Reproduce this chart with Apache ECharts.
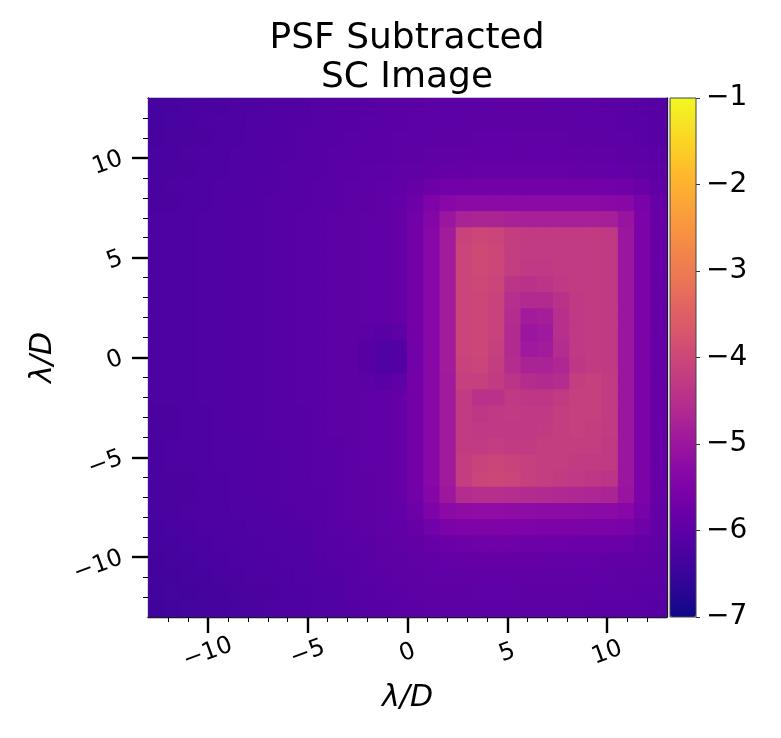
<!DOCTYPE html>
<html>
<head>
<meta charset="utf-8">
<script src="https://cdn.jsdelivr.net/npm/echarts@6/dist/echarts.min.js"></script>
<style>
  html, body { margin: 0; padding: 0; background: #fff; }
  #main { width: 781px; height: 738px; }
</style>
</head>
<body>
<div id="main"></div>
<script>
// image extent in lambda/D, square grid
var extent = [-13, 13];
var xTicks = [-10, -5, 0, 5, 10];
var yTicks = [-10, -5, 0, 5, 10];
var minorTicks = [-12, -11, -10, -9, -8, -7, -6, -5, -4, -3, -2, -1, 0, 1, 2, 3, 4, 5, 6, 7, 8, 9, 10, 11, 12];
var cbarRange = [-7, -1];
var plasma = ['#0d0887', '#2c0594', '#41049d', '#5601a4', '#6a00a8', '#7e03a8', '#8f0da4', '#a11b9b',
  '#b12a90', '#bf3984', '#cc4778', '#d8576b', '#e16462', '#eb7655', '#f2844b', '#f89540',
  '#fca636', '#feb72d', '#fcce25', '#f7e225', '#f0f921'];

// log10 contrast, rows from top (y = +13) to bottom (y = -13), 32 x 32 cells
var scImage = [
  [-6.32,-6.30,-6.28,-6.26,-6.24,-6.22,-6.20,-6.18,-6.16,-6.14,-6.12,-6.10,-6.09,-6.08,-6.06,-6.05,-6.04,-6.03,-6.02,-6.02,-6.01,-6.00,-6.00,-6.00,-6.00,-6.01,-6.02,-6.03,-6.04,-6.05,-6.08,-6.10],
  [-6.31,-6.29,-6.27,-6.25,-6.23,-6.21,-6.19,-6.17,-6.15,-6.13,-6.11,-6.09,-6.08,-6.07,-6.05,-6.04,-6.03,-6.02,-6.01,-6.01,-6.00,-5.99,-5.99,-5.99,-5.99,-6.00,-6.01,-6.02,-6.03,-6.04,-6.07,-6.09],
  [-6.30,-6.28,-6.26,-6.24,-6.22,-6.20,-6.18,-6.16,-6.14,-6.12,-6.10,-6.08,-6.07,-6.06,-6.05,-6.03,-6.02,-6.01,-6.00,-5.99,-5.98,-5.97,-5.97,-5.97,-5.97,-5.98,-5.99,-6.00,-6.01,-6.03,-6.06,-6.08],
  [-6.29,-6.27,-6.25,-6.23,-6.21,-6.19,-6.17,-6.15,-6.13,-6.11,-6.09,-6.07,-6.06,-6.05,-6.04,-6.02,-6.00,-5.98,-5.96,-5.95,-5.94,-5.94,-5.94,-5.94,-5.94,-5.94,-5.95,-5.96,-5.97,-5.99,-6.03,-6.06],
  [-6.28,-6.26,-6.24,-6.22,-6.20,-6.18,-6.16,-6.14,-6.12,-6.10,-6.08,-6.06,-6.05,-6.03,-6.01,-5.98,-5.95,-5.92,-5.88,-5.87,-5.86,-5.86,-5.86,-5.86,-5.86,-5.86,-5.87,-5.88,-5.89,-5.91,-5.95,-6.00],
  [-6.27,-6.25,-6.23,-6.21,-6.19,-6.17,-6.15,-6.13,-6.11,-6.09,-6.07,-6.05,-6.03,-6.01,-5.98,-5.93,-5.85,-5.75,-5.70,-5.68,-5.67,-5.67,-5.67,-5.67,-5.67,-5.67,-5.68,-5.69,-5.70,-5.72,-5.82,-5.93],
  [-6.26,-6.24,-6.22,-6.20,-6.18,-6.16,-6.14,-6.12,-6.10,-6.08,-6.06,-6.04,-6.02,-6.00,-5.96,-5.90,-5.75,-5.50,-5.35,-5.30,-5.28,-5.28,-5.28,-5.28,-5.28,-5.28,-5.28,-5.30,-5.32,-5.35,-5.58,-5.86],
  [-6.25,-6.23,-6.21,-6.19,-6.17,-6.15,-6.13,-6.11,-6.09,-6.07,-6.05,-6.03,-6.00,-5.98,-5.96,-5.88,-5.70,-5.40,-5.00,-4.75,-4.72,-4.72,-4.78,-4.80,-4.80,-4.80,-4.80,-4.80,-4.82,-5.05,-5.52,-5.84],
  [-6.25,-6.23,-6.21,-6.19,-6.17,-6.15,-6.13,-6.11,-6.09,-6.07,-6.05,-6.03,-6.00,-5.98,-5.96,-5.88,-5.65,-5.35,-4.90,-4.10,-4.00,-4.05,-4.20,-4.25,-4.25,-4.25,-4.25,-4.25,-4.30,-5.00,-5.55,-5.85],
  [-6.25,-6.23,-6.21,-6.19,-6.17,-6.15,-6.13,-6.11,-6.09,-6.07,-6.05,-6.03,-6.00,-5.98,-5.96,-5.88,-5.65,-5.35,-4.90,-4.05,-3.95,-4.00,-4.20,-4.25,-4.25,-4.25,-4.25,-4.25,-4.30,-5.00,-5.55,-5.85],
  [-6.25,-6.23,-6.21,-6.19,-6.17,-6.15,-6.13,-6.11,-6.09,-6.07,-6.05,-6.03,-6.00,-5.98,-5.96,-5.88,-5.65,-5.35,-4.90,-4.05,-3.95,-4.00,-4.20,-4.30,-4.30,-4.25,-4.25,-4.25,-4.30,-5.00,-5.55,-5.85],
  [-6.25,-6.23,-6.21,-6.19,-6.17,-6.15,-6.13,-6.11,-6.09,-6.07,-6.05,-6.03,-6.00,-5.98,-5.96,-5.88,-5.65,-5.35,-4.90,-4.05,-3.98,-4.05,-4.40,-4.45,-4.40,-4.30,-4.25,-4.25,-4.30,-5.00,-5.55,-5.85],
  [-6.25,-6.23,-6.21,-6.19,-6.17,-6.15,-6.13,-6.11,-6.09,-6.07,-6.05,-6.03,-6.00,-5.98,-5.96,-5.88,-5.65,-5.35,-4.90,-4.05,-4.00,-4.10,-4.50,-4.60,-4.60,-4.45,-4.30,-4.25,-4.30,-5.00,-5.55,-5.85],
  [-6.25,-6.23,-6.21,-6.19,-6.17,-6.15,-6.13,-6.11,-6.09,-6.07,-6.05,-6.03,-6.00,-5.98,-5.96,-5.88,-5.65,-5.35,-4.90,-4.05,-4.00,-4.10,-4.55,-4.90,-4.85,-4.50,-4.30,-4.25,-4.30,-5.00,-5.55,-5.85],
  [-6.25,-6.23,-6.21,-6.19,-6.17,-6.15,-6.13,-6.11,-6.09,-6.07,-6.05,-6.03,-6.00,-6.02,-6.05,-5.98,-5.65,-5.35,-4.90,-4.05,-4.00,-4.10,-4.60,-5.00,-4.95,-4.50,-4.30,-4.25,-4.30,-5.00,-5.55,-5.85],
  [-6.25,-6.23,-6.21,-6.19,-6.17,-6.15,-6.13,-6.11,-6.09,-6.07,-6.05,-6.03,-6.00,-6.08,-6.18,-6.14,-5.70,-5.35,-4.90,-4.05,-4.00,-4.15,-4.60,-4.95,-4.90,-4.55,-4.30,-4.25,-4.30,-5.00,-5.55,-5.85],
  [-6.25,-6.23,-6.21,-6.19,-6.17,-6.15,-6.13,-6.11,-6.09,-6.07,-6.05,-6.03,-6.00,-6.08,-6.18,-6.14,-5.70,-5.35,-4.90,-4.10,-4.05,-4.20,-4.55,-4.75,-4.75,-4.65,-4.35,-4.25,-4.30,-5.00,-5.55,-5.85],
  [-6.25,-6.23,-6.21,-6.19,-6.17,-6.15,-6.13,-6.11,-6.09,-6.07,-6.05,-6.03,-6.00,-6.02,-6.05,-5.98,-5.65,-5.35,-4.92,-4.15,-4.15,-4.25,-4.40,-4.55,-4.60,-4.55,-4.20,-4.15,-4.25,-5.00,-5.55,-5.85],
  [-6.25,-6.23,-6.21,-6.19,-6.17,-6.15,-6.13,-6.11,-6.09,-6.07,-6.05,-6.03,-6.00,-5.98,-5.96,-5.88,-5.65,-5.35,-4.92,-4.25,-4.45,-4.45,-4.30,-4.35,-4.35,-4.25,-4.15,-4.15,-4.25,-5.00,-5.55,-5.85],
  [-6.26,-6.24,-6.22,-6.20,-6.18,-6.16,-6.14,-6.12,-6.10,-6.08,-6.05,-6.03,-6.00,-5.98,-5.96,-5.88,-5.65,-5.35,-4.92,-4.25,-4.35,-4.30,-4.25,-4.30,-4.30,-4.20,-4.15,-4.15,-4.25,-5.00,-5.55,-5.85],
  [-6.26,-6.24,-6.22,-6.20,-6.18,-6.16,-6.14,-6.12,-6.10,-6.08,-6.06,-6.03,-6.00,-5.98,-5.96,-5.88,-5.65,-5.35,-4.92,-4.25,-4.30,-4.30,-4.30,-4.30,-4.25,-4.20,-4.15,-4.20,-4.25,-5.00,-5.55,-5.85],
  [-6.27,-6.25,-6.23,-6.21,-6.19,-6.17,-6.15,-6.13,-6.11,-6.09,-6.06,-6.04,-6.01,-5.98,-5.96,-5.88,-5.65,-5.35,-4.92,-4.25,-4.25,-4.20,-4.25,-4.25,-4.20,-4.20,-4.20,-4.20,-4.30,-5.00,-5.55,-5.85],
  [-6.27,-6.25,-6.23,-6.21,-6.19,-6.17,-6.15,-6.13,-6.11,-6.09,-6.07,-6.04,-6.01,-5.98,-5.96,-5.88,-5.65,-5.35,-4.92,-4.20,-4.10,-4.05,-4.10,-4.15,-4.20,-4.20,-4.25,-4.25,-4.30,-5.00,-5.55,-5.85],
  [-6.28,-6.26,-6.24,-6.22,-6.20,-6.18,-6.16,-6.14,-6.12,-6.10,-6.07,-6.05,-6.02,-5.99,-5.96,-5.88,-5.65,-5.35,-4.92,-4.20,-4.05,-4.00,-4.05,-4.15,-4.20,-4.25,-4.30,-4.35,-4.40,-5.00,-5.55,-5.85],
  [-6.28,-6.26,-6.24,-6.22,-6.20,-6.18,-6.16,-6.14,-6.12,-6.10,-6.08,-6.05,-6.02,-5.99,-5.96,-5.88,-5.70,-5.40,-4.98,-4.55,-4.50,-4.50,-4.52,-4.58,-4.60,-4.62,-4.65,-4.68,-4.72,-5.05,-5.55,-5.85],
  [-6.29,-6.27,-6.25,-6.23,-6.21,-6.19,-6.17,-6.15,-6.13,-6.11,-6.09,-6.06,-6.03,-6.00,-5.96,-5.90,-5.75,-5.50,-5.30,-5.22,-5.20,-5.20,-5.22,-5.24,-5.25,-5.26,-5.27,-5.28,-5.30,-5.35,-5.62,-5.88],
  [-6.31,-6.29,-6.27,-6.25,-6.23,-6.21,-6.19,-6.17,-6.15,-6.13,-6.10,-6.07,-6.04,-6.02,-5.98,-5.93,-5.85,-5.70,-5.55,-5.50,-5.48,-5.48,-5.49,-5.50,-5.51,-5.52,-5.53,-5.54,-5.55,-5.58,-5.72,-5.92],
  [-6.33,-6.31,-6.29,-6.27,-6.25,-6.23,-6.21,-6.19,-6.17,-6.15,-6.12,-6.09,-6.06,-6.04,-6.00,-5.97,-5.92,-5.85,-5.78,-5.75,-5.74,-5.74,-5.74,-5.75,-5.75,-5.76,-5.77,-5.78,-5.79,-5.81,-5.87,-5.97],
  [-6.35,-6.33,-6.31,-6.29,-6.27,-6.25,-6.23,-6.21,-6.19,-6.17,-6.14,-6.11,-6.08,-6.05,-6.02,-6.00,-5.97,-5.93,-5.90,-5.88,-5.87,-5.87,-5.87,-5.88,-5.88,-5.89,-5.90,-5.91,-5.92,-5.93,-5.96,-6.00],
  [-6.37,-6.35,-6.33,-6.31,-6.29,-6.27,-6.25,-6.23,-6.21,-6.19,-6.16,-6.13,-6.10,-6.07,-6.04,-6.02,-6.00,-5.97,-5.96,-5.95,-5.94,-5.94,-5.94,-5.95,-5.95,-5.96,-5.96,-5.97,-5.98,-5.99,-6.01,-6.03],
  [-6.39,-6.36,-6.34,-6.32,-6.30,-6.28,-6.26,-6.24,-6.22,-6.20,-6.18,-6.15,-6.12,-6.09,-6.06,-6.04,-6.02,-6.00,-6.00,-5.99,-5.98,-5.98,-5.98,-5.99,-5.99,-6.00,-6.00,-6.01,-6.02,-6.03,-6.04,-6.06],
  [-6.42,-6.39,-6.36,-6.33,-6.31,-6.29,-6.27,-6.25,-6.23,-6.21,-6.19,-6.17,-6.14,-6.11,-6.08,-6.06,-6.05,-6.03,-6.03,-6.02,-6.01,-6.01,-6.01,-6.02,-6.02,-6.03,-6.03,-6.04,-6.05,-6.06,-6.07,-6.09]
];

var nCells = scImage.length;
var cellSize = (extent[1] - extent[0]) / nCells;
var cells = [];
scImage.forEach(function (row, j) {
  row.forEach(function (v, i) {
    cells.push([extent[0] + (i + 0.5) * cellSize, extent[1] - (j + 0.5) * cellSize, v]);
  });
});

function minus(v) {
  return v < 0 ? '\u2212' + Math.abs(v) : String(v);
}

var FONT = 'DejaVu Sans';
var lineDark = { color: '#1a1a1a', width: 1.3 };

var myChart = echarts.init(document.getElementById('main'));
var option = {
  backgroundColor: '#fff',
  animation: false,
  title: {
    text: 'PSF Subtracted\nSC Image',
    left: 407,
    top: 19,
    padding: 0,
    textAlign: 'center',
    textStyle: { fontFamily: FONT, fontSize: 36, fontWeight: 'normal', color: '#000', lineHeight: 39 }
  },
  grid: [
    { left: 148, top: 98, width: 519, height: 519 },
    { left: 670, top: 98, width: 26, height: 519 }
  ],
  xAxis: [
    {
      gridIndex: 0, type: 'value', min: extent[0], max: extent[1], position: 'bottom',
      name: 'λ/D', nameLocation: 'middle', nameGap: 66,
      nameTextStyle: { fontFamily: FONT, fontSize: 30, fontStyle: 'italic', color: '#000' },
      axisLine: { show: true, onZero: false, lineStyle: lineDark },
      axisTick: { show: true, customValues: xTicks, length: 16, lineStyle: { color: '#000', width: 2.4 } },
      axisLabel: { show: true, customValues: xTicks, rotate: 20, align: 'center', verticalAlign: 'middle', margin: 36,
        fontFamily: FONT, fontSize: 24, color: '#000', formatter: minus },
      splitLine: { show: false }
    },
    {
      gridIndex: 0, type: 'value', min: extent[0], max: extent[1], position: 'bottom',
      axisLine: { show: false, onZero: false },
      axisTick: { show: true, customValues: minorTicks, length: 5, lineStyle: { color: '#000', width: 1 } },
      axisLabel: { show: false }, splitLine: { show: false }
    },
    {
      gridIndex: 0, type: 'value', min: extent[0], max: extent[1], position: 'top',
      axisLine: { show: true, onZero: false, lineStyle: lineDark },
      axisTick: { show: false }, axisLabel: { show: false }, splitLine: { show: false }
    },
    { gridIndex: 1, type: 'value', min: 0, max: 1, show: false }
  ],
  yAxis: [
    {
      gridIndex: 0, type: 'value', min: extent[0], max: extent[1], position: 'left',
      name: 'λ/D', nameLocation: 'middle', nameGap: 90, nameRotate: 90,
      nameTextStyle: { fontFamily: FONT, fontSize: 30, fontStyle: 'italic', color: '#000' },
      axisLine: { show: true, onZero: false, lineStyle: lineDark },
      axisTick: { show: true, customValues: yTicks, length: 16, lineStyle: { color: '#000', width: 2.4 } },
      axisLabel: { show: true, customValues: yTicks, rotate: 20, margin: 26, fontFamily: FONT, fontSize: 24, color: '#000', formatter: minus },
      splitLine: { show: false }
    },
    {
      gridIndex: 0, type: 'value', min: extent[0], max: extent[1], position: 'left',
      axisLine: { show: false, onZero: false },
      axisTick: { show: true, customValues: minorTicks, length: 5, lineStyle: { color: '#000', width: 1 } },
      axisLabel: { show: false }, splitLine: { show: false }
    },
    {
      gridIndex: 0, type: 'value', min: extent[0], max: extent[1], position: 'right',
      axisLine: { show: true, onZero: false, lineStyle: lineDark },
      axisTick: { show: false }, axisLabel: { show: false }, splitLine: { show: false }
    },
    {
      gridIndex: 1, type: 'value', min: cbarRange[0], max: cbarRange[1], interval: 1, position: 'right',
      axisLine: { show: false, onZero: false },
      axisTick: { show: true, length: 4, lineStyle: { color: '#333', width: 1 } },
      axisLabel: { show: true, margin: 10, fontFamily: FONT, fontSize: 28, color: '#000', formatter: minus },
      splitLine: { show: false }
    }
  ],
  visualMap: {
    type: 'continuous',
    seriesIndex: 0,
    dimension: 2,
    min: cbarRange[0],
    max: cbarRange[1],
    calculable: false,
    hoverLink: false,
    text: null,
    showLabel: false,
    orient: 'vertical',
    left: 670,
    top: 98,
    padding: 0,
    itemWidth: 26,
    itemHeight: 519,
    inRange: { color: plasma }
  },
  graphic: [
    { type: 'rect', z: 100, shape: { x: 670, y: 98, width: 26, height: 519 },
      style: { fill: 'none', stroke: '#444', lineWidth: 1 } }
  ],
  series: [
    {
      type: 'custom',
      xAxisIndex: 0,
      yAxisIndex: 0,
      data: cells,
      clip: true,
      renderItem: function (params, api) {
        var x = api.value(0), y = api.value(1), h = cellSize / 2;
        var p1 = api.coord([x - h, y + h]);
        var p2 = api.coord([x + h, y - h]);
        // small overlap so neighbouring cells leave no seams
        return {
          type: 'rect',
          shape: { x: p1[0] - 0.5, y: p1[1] - 0.5, width: p2[0] - p1[0] + 1, height: p2[1] - p1[1] + 1 },
          style: { fill: api.visual('color') }
        };
      }
    }
  ]
};
myChart.setOption(option);
</script>
</body>
</html>
